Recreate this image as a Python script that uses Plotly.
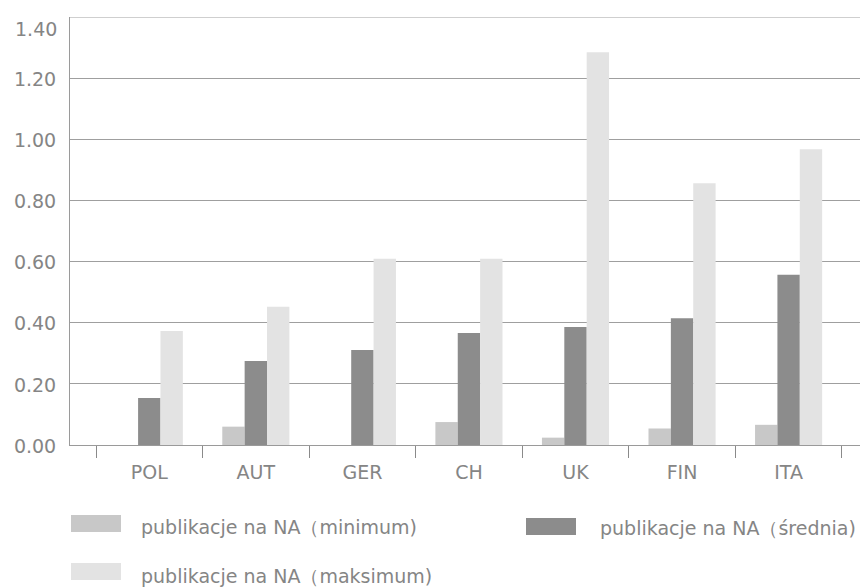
import plotly.graph_objects as go

categories = ["POL", "AUT", "GER", "CH", "UK", "FIN", "ITA"]
minimum = [0.0, 0.06, 0.0, 0.075, 0.024, 0.054, 0.066]
srednia = [0.154, 0.275, 0.311, 0.366, 0.386, 0.415, 0.557]
maksimum = [0.373, 0.452, 0.609, 0.609, 1.285, 0.856, 0.967]
y_ticks = [0, 0.2, 0.4, 0.6, 0.8, 1.0, 1.2, 1.4]
y_ticklabels = ["0.00", "0.20", "0.40", "0.60", "0.80", "1.00", "1.20", "1.40"]

names = ["publikacje na NA（minimum)", "publikacje na NA（średnia)", "publikacje na NA（maksimum)"]
colors = ["#c8c8c8", "#8c8c8c", "#e3e3e3"]

W, H = 860, 588
L, R, T, B = 70, 0, 17, 143
FONT = "DejaVu Sans"
TXT = "#858585"
FS = 19

fig = go.Figure()
for vals, name, col in zip([minimum, srednia, maksimum], names, colors):
    fig.add_trace(go.Bar(x=categories, y=vals, name=name,
                         marker=dict(color=col, line=dict(width=0)), showlegend=False))

pw = W - L - R
ph = H - T - B
def px(x):
    return (x - L) / pw
def py(y):
    return (H - B - y) / ph

shapes = []
annotations = []
legend_items = [
    (0, 71, 515, 139, 527),
    (1, 526, 518, 598, 528),
    (2, 71, 563, 139, 576),
]
for idx, sx, sy, tx, ty in legend_items:
    shapes.append(dict(type="rect", xref="paper", yref="paper",
                       x0=px(sx), x1=px(sx + 50), y0=py(sy), y1=py(sy + 17),
                       fillcolor=colors[idx], line=dict(width=0)))
    annotations.append(dict(xref="paper", yref="paper", x=px(tx), y=py(ty),
                            xanchor="left", yanchor="middle", showarrow=False,
                            text=names[idx], font=dict(family=FONT, size=FS, color=TXT)))

# top gridline (at the top edge of the value range)
shapes.append(dict(type="line", xref="paper", yref="y", x0=0, x1=1,
                   y0=y_ticks[-1], y1=y_ticks[-1], line=dict(color="#9f9f9f", width=1)))

# top tick label sits a little below the top gridline in the reference
shown_ticktext = y_ticklabels[:-1] + [""]
annotations.append(dict(xref="paper", yref="paper", x=px(59), y=py(29),
                        xanchor="right", yanchor="middle", showarrow=False,
                        text=y_ticklabels[-1], font=dict(family=FONT, size=FS, color=TXT)))

fig.update_layout(
    width=W, height=H,
    margin=dict(l=L, r=R, t=T, b=B, pad=0),
    paper_bgcolor="white", plot_bgcolor="white",
    barmode="group", bargap=0.37, bargroupgap=0,
    font=dict(family=FONT, size=FS, color=TXT),
    xaxis=dict(type="category", range=[-0.744, 6.67], tickson="boundaries",
               ticks="outside", ticklen=12, tickcolor="#8a8a8a", tickwidth=1,
               showline=True, linecolor="#9a9a9a", linewidth=1, showgrid=False,
               ticklabelstandoff=10,
               tickfont=dict(family=FONT, size=FS, color=TXT)),
    yaxis=dict(range=[0, 1.4], tickvals=y_ticks, ticktext=shown_ticktext,
               showgrid=True, gridcolor="#9f9f9f", gridwidth=1,
               showline=True, linecolor="#9a9a9a", linewidth=1,
               zeroline=False, ticks="", ticklabelstandoff=9, ticklabelshift=1,
               tickfont=dict(family=FONT, size=FS, color=TXT)),
    shapes=shapes, annotations=annotations,
)

fig.write_html("out.html", config={"displayModeBar": False},
               post_script="document.body.style.margin='0';")
